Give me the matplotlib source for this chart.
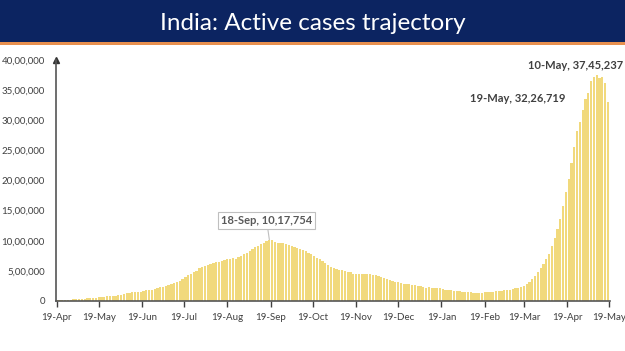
import pandas as pd
import matplotlib
matplotlib.use("Agg")
from matplotlib import pyplot as plt
from matplotlib.patches import Rectangle
import matplotlib.dates as mdates

plt.rcParams["font.family"] = ["Lato", "DejaVu Sans"]

# active cases, one bar every 2 days starting 19-Apr-2020
start_date = "2020-04-19"
active_cases = [
    12974, 14175, 15474, 18668, 20835, 22629,
    25007, 28046, 32138, 35902, 39834, 44029, 47480, 51401, 53946, 58802,
    63624, 69597, 77103, 83004, 86422, 89995,
    97581, 106737, 115942, 125381, 133632, 141842, 149348, 153178, 155227,
    169451, 174387, 183022, 189463, 203051, 215125,
    226947, 235433, 253287, 264944, 276682, 292258, 311565, 331146, 358692,
    390459, 426167, 456071, 485114, 496988, 545318,
    565103, 579357, 595501, 607384, 628747, 639929, 653622, 661595, 676514,
    692028, 697330, 707267, 704348, 728010, 752424, 781975,
    801282, 831124, 862320, 895476, 919018, 947576, 970000, 995933, 1017754,
    1010824, 975861, 966382, 960969, 956402, 940705,
    937625, 919023, 902425, 883185, 861853, 838729, 826876, 804528, 783311,
    740090, 715812, 695509, 668154, 625857, 594386,
    570458, 541405, 527962, 516632, 509673, 494657, 484547, 480719, 453956,
    443794, 440962, 443303, 444746, 454940, 453401,
    435603, 428644, 416082, 396729, 383866, 372293, 356546, 339820, 322366,
    313831, 303639, 289240, 281919, 278690, 268581, 257656,
    250183, 243953, 231036, 222526, 224190, 216558, 214507, 211033, 208826,
    192308, 188688, 184408, 176498, 173740, 168235,
    160057, 155025, 154823, 148590, 143625, 137342, 136872, 137567, 138000,
    143127, 145634, 150055, 155986, 164511,
    168358, 170126, 176319, 184598, 189226, 196237, 210544, 223432, 234406,
    252364, 284289, 319000, 368457, 421066, 486310, 540720,
    614696, 691597, 788223, 910319, 1046631, 1201009, 1365704, 1569743,
    1801316, 2031977, 2291428, 2552940, 2813658, 2978709, 3170228,
    3349644, 3447133, 3645164, 3723446, 3745237, 3704099, 3710525, 3618458,
    3300000,
]

label_dates = ["2020-09-18", "2021-05-10", "2021-05-19"]
label_values = [1017754, 3745237, 3226719]

y_ticks = [0, 500000, 1000000, 1500000, 2000000, 2500000, 3000000, 3500000, 4000000]
x_tick_dates = pd.date_range("2020-04-01", "2021-05-01", freq="MS") + pd.Timedelta(days=18)


def indian_format(n):
    s = str(int(n))
    if len(s) <= 3:
        return s
    head, tail = s[:-3], s[-3:]
    parts = []
    while len(head) > 2:
        parts.insert(0, head[-2:])
        head = head[:-2]
    if head:
        parts.insert(0, head)
    return ",".join(parts) + "," + tail


dates = pd.date_range(start_date, periods=len(active_cases), freq="2D")

fig = plt.figure(figsize=(6.25, 3.51), dpi=100)
fig.patches.append(Rectangle((0, 1 - 42 / 351), 1, 42 / 351, transform=fig.transFigure,
                             facecolor="#0c2461", edgecolor="none", zorder=0))
fig.patches.append(Rectangle((0, 1 - 44.5 / 351), 1, 2.5 / 351, transform=fig.transFigure,
                             facecolor="#e8904f", edgecolor="none", zorder=0))
fig.text(0.5, 1 - 23 / 351, "India: Active cases trajectory", color="white",
         fontsize=17.5, ha="center", va="center")

ax = fig.add_axes([56 / 625, 1 - 301 / 351, (610 - 56) / 625, (301 - 60) / 351])
ax.bar(dates, active_cases, width=1.6, color="#f1d97c", linewidth=0)

ax.set_xlim(pd.Timestamp("2020-04-19") - pd.Timedelta(days=0.5), pd.Timestamp("2021-05-19") + pd.Timedelta(days=0.5))
ax.set_ylim(0, 4000000)

ax.set_yticks(y_ticks)
ax.set_yticklabels([indian_format(v) for v in y_ticks])
ax.set_xticks(x_tick_dates)
ax.xaxis.set_major_formatter(mdates.DateFormatter("%d-%b"))

ax.tick_params(axis="y", length=0, labelsize=7, labelcolor="#404040", pad=8)
ax.tick_params(axis="x", length=4, width=1, color="#404040", labelsize=7,
               labelcolor="#404040", pad=5, direction="out")

for side in ["top", "right"]:
    ax.spines[side].set_visible(False)
for side in ["left", "bottom"]:
    ax.spines[side].set_color("#555555")
    ax.spines[side].set_linewidth(1.2)
ax.plot(0, 1, marker="^", color="#333333", markersize=4, transform=ax.transAxes, clip_on=False)

ld = [pd.Timestamp(d) for d in label_dates]
ax.annotate(f"18-Sep, {indian_format(label_values[0])}", xy=(ld[0], label_values[0]),
            xytext=(-2, 10), textcoords="offset points", ha="center", va="bottom",
            fontsize=8, fontweight="bold", color="#595959",
            bbox=dict(boxstyle="square,pad=0.25", fc="white", ec="#bfbfbf", lw=0.8),
            arrowprops=dict(arrowstyle="-", color="#bfbfbf", lw=0.8, shrinkA=0, shrinkB=0))
ax.annotate(f"10-May, {indian_format(label_values[1])}", xy=(ld[1], label_values[1]),
            xytext=(-15, 7), textcoords="offset points", ha="center", va="center",
            fontsize=8, fontweight="bold", color="#404040", annotation_clip=False)
ax.annotate(f"19-May, {indian_format(label_values[2])}", xy=(ld[2], label_values[2]),
            xytext=(-66, 6), textcoords="offset points", ha="center", va="center",
            fontsize=8, fontweight="bold", color="#404040", annotation_clip=False)

plt.savefig("out.png", dpi=100)
